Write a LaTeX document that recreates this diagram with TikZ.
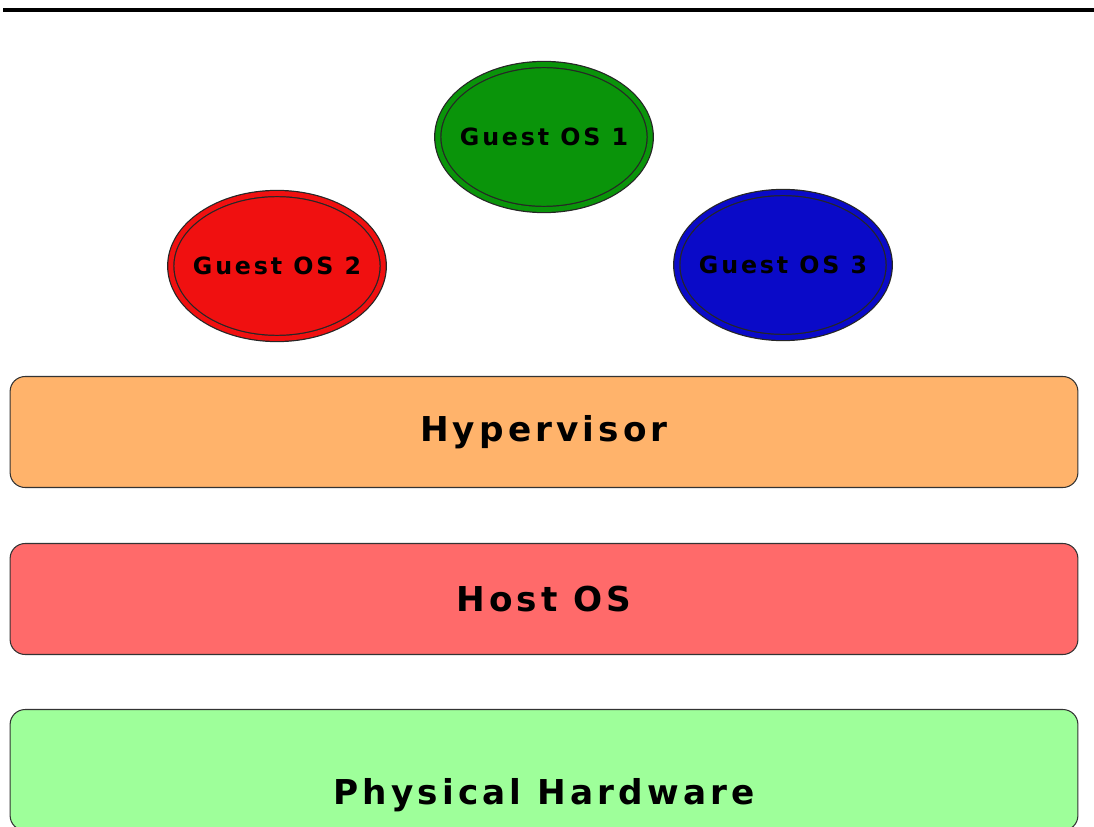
\documentclass[tikz,border=0pt]{standalone}
\usepackage{fontspec}
\setmainfont{DejaVu Sans}
\newfontfamily\boxfont[LetterSpace=12]{DejaVu Sans}
\usetikzlibrary{shapes.geometric}

\definecolor{guestgreen}{HTML}{0A940A}
\definecolor{guestred}{HTML}{F01010}
\definecolor{guestblue}{HTML}{0A0AC8}
\definecolor{hyperorange}{HTML}{FFB36B}
\definecolor{hostred}{HTML}{FF6A6A}
\definecolor{hwgreen}{HTML}{9EFF9A}

\begin{document}
\begin{tikzpicture}[x=0.02cm,y=-0.02cm,
		guest node/.style={ellipse,draw=black!85,line width=0.7pt,double distance=2.8pt,
			minimum width=4.25cm,minimum height=2.9cm,inner xsep=-0.4cm,inner ysep=0pt,
			font=\boxfont\fontsize{13.5}{13.5}\selectfont\bfseries},
		layer box/.style={rectangle,draw=black!80,line width=0.6pt,rounded corners=0.3cm,
			minimum width=21.36cm,minimum height=2.22cm,
			font=\boxfont\fontsize{19.5}{19.5}\selectfont\bfseries}]

		\useasboundingbox (0,0) rectangle (1094,827);
		\clip (0,0) rectangle (1094,827);

		% rule at the top
		\coordinate (ruleL) at (3,10);
		\coordinate (ruleR) at (1094,10);
		\draw[line width=1.8pt] (ruleL) -- (ruleR);

		% guests
		\node[guest node,fill=guestgreen,double=guestgreen] (guest1) at (544,137) {Guest OS 1};
		\node[guest node,fill=guestred,double=guestred] (guest2) at (277,266) {Guest OS 2};
		\node[guest node,fill=guestblue,double=guestblue] (guest3) at (783,265) {Guest OS 3};

		% layers
		\node[layer box,fill=hyperorange] (hyper) at (544,432) {Hypervisor};
		\node[layer box,fill=hostred] (host) at (544,599) {Host OS};
		\node[layer box,fill=hwgreen,minimum height=2.42cm] (hw) at (544,770) {};
		\node[font=\boxfont\fontsize{19.5}{19.5}\selectfont\bfseries] (hwtext) at (544,795) {Physical Hardware};
	\end{tikzpicture}
\end{document}
